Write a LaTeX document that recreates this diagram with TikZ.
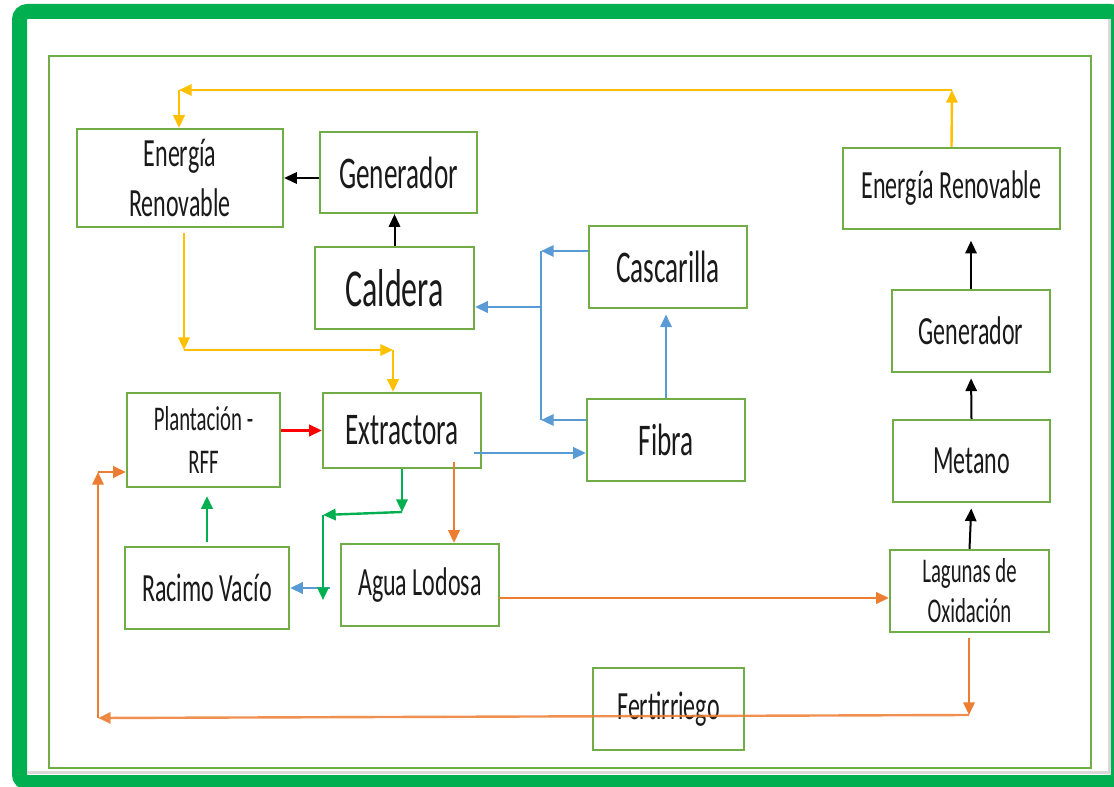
\documentclass[tikz,border=0pt]{standalone}
\usepackage{fontspec}
\setmainfont{Carlito}[FakeStretch=0.6]
\usetikzlibrary{arrows.meta}

%Colores
\definecolor{verdemarco}{HTML}{00B050}
\definecolor{verdecaja}{HTML}{70AD47}
\definecolor{amarillo}{HTML}{FFC000}
\definecolor{azul}{HTML}{5B9BD5}
\definecolor{naranja}{HTML}{ED7D31}
\definecolor{rojo}{HTML}{FF0000}
\definecolor{gris}{HTML}{D9D9D9}
\definecolor{texto}{HTML}{1A1A1A}

\def\pix{0.75pt}

\begin{document}
\begin{tikzpicture}[x=0.75pt,y=-0.75pt,
	caja/.style 2 args={draw=verdecaja, line width=2.2*\pix, fill=white, text=texto, align=center, inner sep=0pt, minimum width=#1*\pix, minimum height=#2*\pix},
	t26/.style={font=\fontsize{26}{32}\selectfont},
	t30/.style={font=\fontsize{30}{37}\selectfont},
	t34/.style={font=\fontsize{34}{40}\selectfont},
	t40/.style={font=\fontsize{40}{46}\selectfont},
	flecha/.style={-{Triangle[length=9.5pt,width=8.5pt]}, line width=2.4*\pix},
	famarilla/.style={flecha, draw=amarillo},
	fnegra/.style={flecha, draw=black, line width=2*\pix},
	fazul/.style={flecha, draw=azul},
	lazul/.style={draw=azul, line width=2.4*\pix},
	froja/.style={flecha, draw=rojo},
	fverde/.style={flecha, draw=verdemarco},
	fnaranja/.style={flecha, draw=naranja}]

\useasboundingbox (0,0) rectangle (1114,787);
\clip (0,0) rectangle (1114,787);

%Marcos
\draw[verdemarco, line width=15*\pix, rounded corners=6pt] (19.5,11.5) rectangle (1118.5,782.5);
\draw[gris, line width=3*\pix] (27,772) -- (1109,772) -- (1109,19);
\draw[verdecaja, line width=2*\pix] (49,56) rectangle (1091,768);

%Cajas
\node[caja={206}{98}, t30] (erl) at (180,178) {Energía\\Renovable};
\node[caja={157}{81}, t34] (gen) at (398.5,172.5) {Generador};
\node[caja={159}{82}, t40] (cal) at (394.5,288) {Caldera};
\node[caja={158}{82}, t34] (cas) at (668,267) {Cascarilla};
\node[caja={158}{75}, t34] (ext) at (402,430.5) {Extractora};
\node[caja={153}{94}, t26] (pla) at (203.5,440) {Plantación -\\RFF};
\node[caja={158}{82}, t34] (fib) at (666,440) {Fibra};
\node[caja={164}{82}, t30] (rac) at (207,588) {Racimo Vacío};
\node[caja={158}{82}, t30] (agu) at (420,585) {Agua Lodosa};
\node[caja={151}{82}, t30] (fer) at (668.5,709) {Fertirriego};
\node[caja={217}{81}, t30] (err) at (951.5,188.5) {Energía Renovable};
\node[caja={158}{82}, t30] (genr) at (971,331) {Generador};
\node[caja={157}{82}, t30] (met) at (971.5,461) {Metano};
\node[caja={159}{82}, font=\fontsize{26}{30}\selectfont] (lag) at (969.5,591) {Lagunas de\\Oxidación};

%Energía (amarillo)
\coordinate (ya) at (952,90);
\coordinate (yb) at (179,90);
\coordinate (yc) at (184,350);
\coordinate (yd) at (393,350);
\draw[famarilla] (err.north) -- (ya);
\draw[famarilla] (ya) -- (yb);
\draw[famarilla] (yb) -- (yb |- erl.north);
\draw[famarilla, shorten <=4pt] (yc |- erl.south) -- (yc);
\draw[famarilla] (yc) -- (yd);
\draw[famarilla] (yd) -- (yd |- ext.north);

%Negras
\draw[fnegra] (gen.west |- erl.east) -- (erl.east);
\draw[fnegra] (cal.north) -- (cal.north |- gen.south);
\draw[fnegra, shorten >=4pt] (lag.north) -- (met.south);
\draw[fnegra, shorten >=4pt] (met.north) -- (genr.south);
\draw[fnegra, shorten >=8pt] (genr.north) -- (genr.north |- err.south);

%Azules
\coordinate (ba) at (541,251);
\coordinate (bb) at (541,420);
\coordinate (bc) at (541,307);
\coordinate (bd) at (474,453);
\coordinate (be) at (330,588);
\draw[fazul] (cas.west |- ba) -- (ba);
\draw[fazul] (fib.west |- bb) -- (bb);
\draw[lazul] (ba) -- (bb);
\draw[fazul] (bc) -- (bc -| cal.east);
\draw[fazul, shorten >=4pt] (fib.north) -- (fib.north |- cas.south);
\draw[fazul] (bd) -- (bd -| fib.west);
\draw[fazul] (be) -- (be -| rac.east);

%Roja
\draw[froja] (pla.east |- ext.west) -- (ext.west);

%Verdes
\coordinate (ga) at (402,512);
\coordinate (gb) at (323,515);
\coordinate (gc) at (323,600);
\draw[fverde] (ga |- ext.south) -- (ga);
\draw[fverde] (ga) -- (gb);
\draw[fverde] (gb) -- (gc);
\draw[fverde, shorten <=3pt, shorten >=6pt] (rac.north) -- (rac.north |- pla.south);

%Naranjas
\coordinate (oa) at (454,462);
\coordinate (ob) at (499,598);
\coordinate (oc) at (969,715);
\coordinate (od) at (98,718);
\coordinate (oe) at (98,472);
\draw[fnaranja] (oa) -- (oa |- agu.north);
\draw[fnaranja] (ob) -- (ob -| lag.west);
\draw[fnaranja, shorten <=4pt] (oc |- lag.south) -- (oc);
\draw[fnaranja, opacity=0.85] (oc) -- (od);
\draw[fnaranja] (od) -- (oe);
\draw[fnaranja] (oe) -- (oe -| pla.west);

\end{tikzpicture}
\end{document}
